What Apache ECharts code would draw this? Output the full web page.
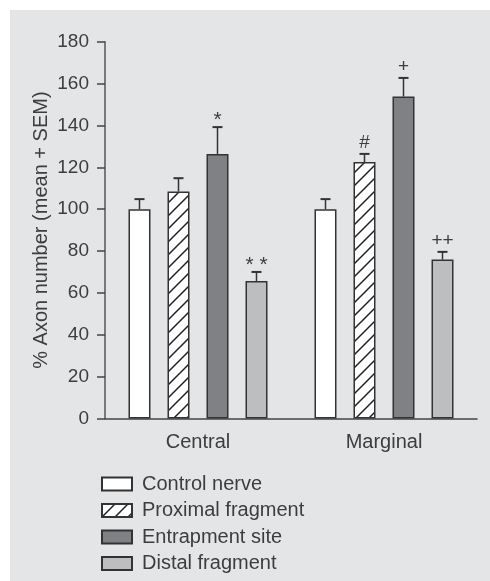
<!DOCTYPE html>
<html>
<head>
<meta charset="utf-8">
<script src="https://cdn.jsdelivr.net/npm/echarts@6/dist/echarts.min.js"></script>
<style>
html,body{margin:0;padding:0;background:#ffffff;}
#panel{position:absolute;left:10px;top:10px;width:480px;height:571px;background:#e4e5e7;}
#chart{width:480px;height:571px;}
</style>
</head>
<body>
<div id="panel"><div id="chart"></div></div>
<script>
// ---- data ----
const categories = ['Central', 'Marginal'];
const seriesNames = ['Control nerve', 'Proximal fragment', 'Entrapment site', 'Distal fragment'];
const controlValues = [100, 100];
const proximalValues = [108.4, 122.5];
const entrapmentValues = [126.4, 153.8];
const distalValues = [65.7, 75.9];
const controlSEM = [4.8, 4.8];
const proximalSEM = [6.4, 3.9];
const entrapmentSEM = [12.8, 8.9];
const distalSEM = [4.3, 3.7];
const controlMarks = ['', ''];
const proximalMarks = ['', '#'];
const entrapmentMarks = ['*', '+'];
const distalMarks = ['* *', '++'];
const yTicks = [0, 20, 40, 60, 80, 100, 120, 140, 160, 180];
const yTitle = '% Axon number (mean + SEM)';

// ---- styles ----
const FONT = 'Liberation Sans';
const TEXT = '#3d3d3d';
const EDGE = '#333333';
const BAR_W = 22;
const BAR_GAP = 17;

function hatch() {
  const s = 13;
  const c = document.createElement('canvas');
  c.width = s; c.height = s;
  const g = c.getContext('2d');
  g.fillStyle = '#ffffff';
  g.fillRect(0, 0, s, s);
  g.strokeStyle = '#222222';
  g.lineWidth = 1.5;
  g.beginPath();
  g.moveTo(-1, s + 1); g.lineTo(s + 1, -1);
  g.moveTo(-2, 2); g.lineTo(2, -2);
  g.moveTo(s - 2, s + 2); g.lineTo(s + 2, s - 2);
  g.stroke();
  return c;
}

const fills = ['#ffffff', { image: hatch(), repeat: 'repeat' }, '#808185', '#bdbec0'];
const values = [controlValues, proximalValues, entrapmentValues, distalValues];
const sems = [controlSEM, proximalSEM, entrapmentSEM, distalSEM];
const marks = [controlMarks, proximalMarks, entrapmentMarks, distalMarks];

const series = [];
values.forEach((vals, i) => {
  series.push({
    name: seriesNames[i],
    type: 'bar',
    data: vals,
    barWidth: BAR_W,
    barGap: (BAR_GAP / BAR_W * 100).toFixed(1) + '%',
    itemStyle: { color: fills[i], borderColor: EDGE, borderWidth: 1.5 },
    emphasis: { disabled: true },
    z: 2
  });
});
values.forEach((vals, i) => {
  const offset = (i - 1.5) * (BAR_W + BAR_GAP);
  series.push({
    name: 'err' + i,
    type: 'custom',
    data: vals.map((v, k) => [k, v, sems[i][k], k]),
    z: 3,
    silent: true,
    renderItem: function (params, api) {
      const cat = api.value(0), v = api.value(1), e = api.value(2), k = api.value(3);
      const p = api.coord([cat, v]);
      const t = api.coord([cat, v + e]);
      const x = p[0] + offset;
      const lbl = marks[i][k];
      const isStar = lbl.indexOf('*') >= 0;
      return {
        type: 'group',
        children: [
          { type: 'line', shape: { x1: x, y1: p[1], x2: x, y2: t[1] }, style: { stroke: EDGE, lineWidth: 1.5 } },
          { type: 'line', shape: { x1: x - 5, y1: t[1], x2: x + 5, y2: t[1] }, style: { stroke: EDGE, lineWidth: 2 } },
          { type: 'text', x: x, y: t[1] - (isStar ? -4 : 2),
            style: { text: lbl, align: 'center', verticalAlign: 'bottom', font: (isStar ? '21px ' : '19px ') + FONT, fill: TEXT } }
        ]
      };
    }
  });
});

const chart = echarts.init(document.getElementById('chart'), null, { renderer: 'canvas' });
chart.setOption({
  animation: false,
  backgroundColor: 'transparent',
  textStyle: { fontFamily: FONT },
  grid: { left: 95, right: 13, top: 31.7, bottom: 162.5 },
  legend: {
    data: seriesNames,
    orient: 'vertical',
    left: 86,
    top: 459,
    height: 106,
    itemWidth: 30,
    itemHeight: 13,
    itemGap: 6.5,
    icon: 'rect',
    selectedMode: false,
    textStyle: { fontFamily: FONT, fontSize: 20, color: TEXT, lineHeight: 19, padding: [0, 0, 0, 5] }
  },
  xAxis: {
    type: 'category',
    data: categories,
    axisLine: { lineStyle: { color: '#444444', width: 1.5 } },
    axisTick: { show: false },
    axisLabel: { fontFamily: FONT, fontSize: 20, color: TEXT, margin: 14 }
  },
  yAxis: {
    type: 'value',
    min: yTicks[0],
    max: yTicks[yTicks.length - 1],
    interval: yTicks[1] - yTicks[0],
    name: yTitle,
    nameLocation: 'middle',
    nameGap: 54,
    nameMoveOverlap: false,
    nameTextStyle: { fontFamily: FONT, fontSize: 20, color: TEXT },
    axisLine: { show: true, lineStyle: { color: '#555555', width: 1.5 } },
    axisTick: { show: true, length: 8, lineStyle: { color: '#444444', width: 1.5 } },
    axisLabel: { fontFamily: FONT, fontSize: 19, color: TEXT, margin: 16 },
    splitLine: { show: false }
  },
  series: series
});
</script>
</body>
</html>
